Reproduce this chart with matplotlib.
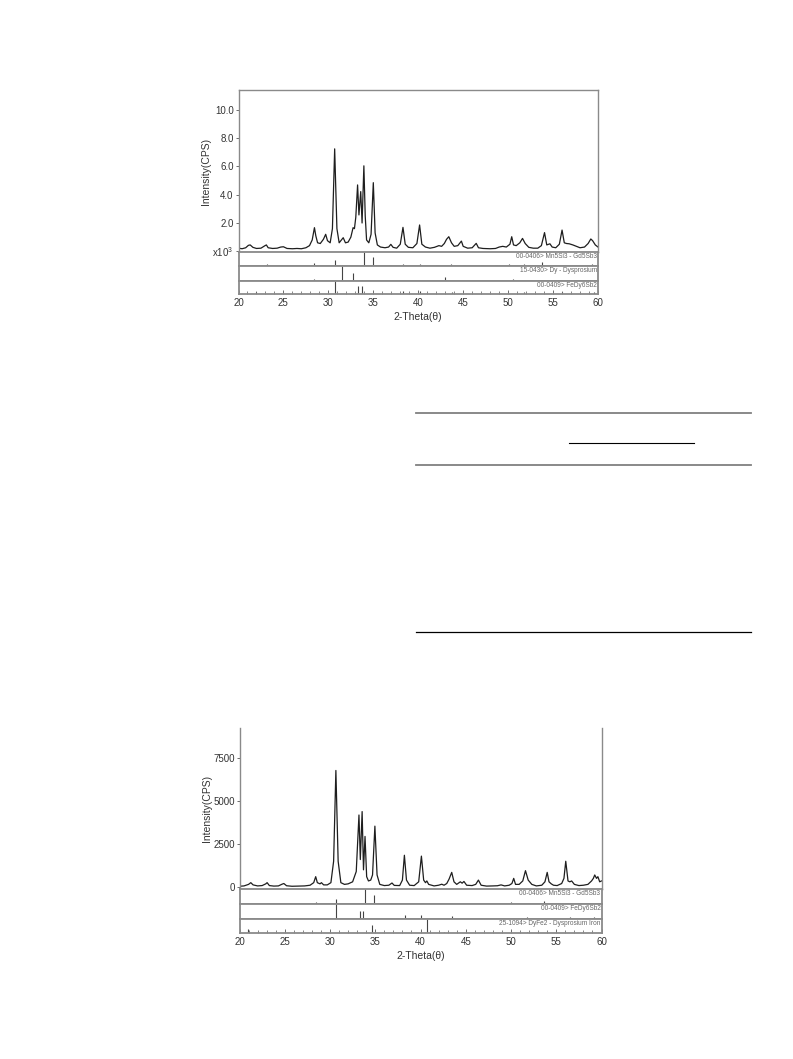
import numpy as np
import matplotlib
matplotlib.use("Agg")
import matplotlib.pyplot as plt
from matplotlib.lines import Line2D
from matplotlib.ticker import MultipleLocator

plt.rcParams['font.family'] = ['Liberation Sans', 'DejaVu Sans']
plt.rcParams['mathtext.default'] = 'regular'

W, H = 793, 1059

# ---- pattern 1 (top), intensity in 10^3 CPS ----
tt1 = [20.0, 20.4, 20.8, 21.1, 21.3, 21.6, 22.0, 22.5, 22.9, 23.1, 23.3, 23.8, 24.3, 24.7, 25.0,
       25.4, 26.0, 26.5, 27.0, 27.5, 27.9, 28.2, 28.45, 28.6, 28.8, 29.1, 29.45, 29.7, 29.9, 30.2,
       30.45, 30.7, 30.95, 31.2, 31.45, 31.65, 31.9, 32.2, 32.5, 32.75, 32.9, 33.05, 33.25, 33.4,
       33.6, 33.75, 33.95, 34.1, 34.25, 34.5, 34.75, 35.0, 35.2, 35.45, 35.8, 36.3, 36.7, 36.95,
       37.2, 37.6, 38.0, 38.3, 38.55, 38.9, 39.4, 39.85, 40.15, 40.4, 40.8, 41.3, 41.8, 42.3, 42.6,
       42.9, 43.15, 43.4, 43.7, 44.0, 44.4, 44.8, 45.0, 45.5, 46.0, 46.45, 46.7, 47.2, 48.0, 48.6,
       49.0, 49.4, 49.8, 50.2, 50.4, 50.6, 50.9, 51.3, 51.6, 51.9, 52.3, 52.8, 53.3, 53.7, 54.05,
       54.3, 54.65, 54.9, 55.3, 55.7, 56.0, 56.25, 56.5, 56.8, 57.2, 57.6, 58.0, 58.5, 58.9, 59.2,
       59.4, 59.7, 60.0]
cps1 = [0.22, 0.18, 0.25, 0.42, 0.45, 0.28, 0.2, 0.22, 0.38, 0.45, 0.25, 0.2, 0.22, 0.3, 0.32,
        0.2, 0.18, 0.2, 0.18, 0.25, 0.4, 0.8, 1.67, 1.1, 0.6, 0.55, 0.85, 1.2, 0.75, 0.6,
        1.6, 7.24, 1.6, 0.6, 0.8, 0.96, 0.6, 0.65, 1.0, 1.67, 1.6, 2.4, 4.69, 2.57,
        4.22, 2.0, 6.04, 2.5, 0.8, 0.6, 1.2, 4.85, 1.3, 0.45, 0.3, 0.25, 0.3, 0.49,
        0.28, 0.22, 0.5, 1.69, 0.5, 0.28, 0.25, 0.55, 1.86, 0.5, 0.3, 0.22, 0.28, 0.4, 0.35,
        0.55, 0.85, 1.03, 0.6, 0.35, 0.4, 0.72, 0.35, 0.22, 0.25, 0.56, 0.25, 0.2, 0.18, 0.2,
        0.3, 0.35, 0.3, 0.5, 1.03, 0.45, 0.4, 0.6, 0.91, 0.55, 0.28, 0.22, 0.22, 0.4, 1.32,
        0.45, 0.53, 0.3, 0.25, 0.5, 1.5, 0.6, 0.55, 0.53, 0.45, 0.35, 0.25, 0.3, 0.55, 0.87,
        0.75, 0.45, 0.3]

# reference cards for pattern 1 (position, relative height)
card1a_name = "00-0406> Mn5Si3 - Gd5Sb3"
card1a_pos = [23.2, 28.45, 30.7, 33.93, 34.94, 36.9, 38.3, 40.2, 42.1, 43.6, 45.1, 47.1, 48.6,
              50.1, 51.8, 53.8, 55.1, 57.4, 59.3]
card1a_h = [0.12, 0.2, 0.4, 1.0, 0.65, 0.1, 0.12, 0.12, 0.1, 0.12, 0.1, 0.08, 0.1,
            0.12, 0.12, 0.3, 0.1, 0.1, 0.12]
card1b_name = "15-0430> Dy - Dysprosium"
card1b_pos = [28.4, 31.55, 32.7, 43.0, 50.5, 55.9, 57.9]
card1b_h = [0.15, 1.0, 0.55, 0.25, 0.12, 0.1, 0.1]
card1c_name = "00-0409> FeDy6Sb2"
card1c_pos = [21.9, 30.76, 33.33, 33.71, 38.3, 40.2, 43.8, 51.8, 56.0, 59.5]
card1c_h = [0.12, 1.0, 0.6, 0.6, 0.22, 0.22, 0.15, 0.15, 0.18, 0.15]

# ---- pattern 2 (bottom), intensity in CPS ----
tt2 = [20.0, 20.5, 21.0, 21.25, 21.5, 22.0, 22.5, 22.9, 23.05, 23.3, 23.8, 24.3, 24.7, 24.9, 25.2,
       25.8, 26.5, 27.2, 27.8, 28.2, 28.42, 28.6, 28.9, 29.05, 29.3, 29.7, 30.1, 30.4, 30.65, 30.9,
       31.2, 31.6, 32.0, 32.5, 32.9, 33.2, 33.35, 33.55, 33.7, 33.87, 34.05, 34.25, 34.5, 34.7,
       34.96, 35.2, 35.5, 36.0, 36.5, 36.85, 37.1, 37.7, 38.0, 38.22, 38.45, 38.8, 39.3, 39.8,
       40.1, 40.35, 40.55, 40.7, 40.9, 41.5, 42.0, 42.35, 42.6, 42.9, 43.15, 43.45, 43.7, 44.0,
       44.4, 44.6, 44.8, 45.1, 45.7, 46.1, 46.4, 46.7, 47.3, 48.0, 48.5, 48.9, 49.3, 49.8, 50.1,
       50.3, 50.5, 50.9, 51.3, 51.6, 51.9, 52.3, 52.8, 53.4, 53.75, 54.0, 54.2, 54.45, 54.7, 55.1,
       55.6, 55.85, 56.05, 56.3, 56.5, 56.7, 57.0, 57.5, 58.0, 58.5, 58.9, 59.1, 59.25, 59.45,
       59.6, 59.8, 60.0]
cps2 = [40, 60, 150, 250, 120, 60, 80, 180, 250, 80, 50, 60, 160, 200, 70,
        40, 50, 60, 100, 250, 600, 250, 180, 250, 120, 120, 250, 1500, 6800, 1500,
        250, 150, 180, 300, 900, 4200, 1600, 4400, 1000, 2950, 600, 350, 400, 700,
        3550, 700, 150, 80, 100, 230, 90, 80, 400, 1850, 400, 100, 80, 300,
        1800, 400, 250, 350, 150, 60, 100, 160, 100, 200, 450, 850, 300, 150,
        300, 220, 320, 100, 80, 150, 400, 100, 50, 60, 70, 120, 60, 100, 200,
        500, 150, 150, 350, 950, 400, 150, 60, 100, 300, 850, 300, 180, 100, 80,
        200, 500, 1500, 350, 300, 350, 150, 80, 100, 150, 350, 500, 700, 500,
        600, 300, 350]

card2a_name = "00-0406> Mn5Si3 - Gd5Sb3"
card2a_pos = [23.1, 28.5, 30.7, 33.85, 34.88, 36.9, 40.2, 43.4, 50.0, 53.7, 56.2]
card2a_h = [0.08, 0.15, 0.35, 1.0, 0.6, 0.08, 0.08, 0.08, 0.15, 0.2, 0.1]
card2b_name = "00-0409> FeDy6Sb2"
card2b_pos = [21.5, 24.7, 30.7, 33.26, 33.6, 38.3, 40.06, 43.45, 51.8, 56.5, 59.2]
card2b_h = [0.08, 0.08, 1.0, 0.55, 0.55, 0.25, 0.25, 0.2, 0.15, 0.15, 0.15]
card2c_name = "25-1094> DyFe2 - Dysprosium Iron"
card2c_pos = [20.92, 34.59, 40.76, 42.6, 51.8]
card2c_h = [0.28, 0.6, 1.0, 0.1, 0.06]

FRAME = '#8a8a8a'
TXT = '#333333'


def box(x0, y0, x1, y1):
    return [x0 / W, 1 - y1 / H, (x1 - x0) / W, (y1 - y0) / H]


def style_frame(ax, lw=1.0):
    for s in ax.spines.values():
        s.set_color(FRAME)
        s.set_linewidth(lw)


def card_panel(fig, rect, pos, hts, name, last=False):
    ax = fig.add_axes(rect)
    ax.vlines(pos, 0, hts, color='#444444', lw=0.8)
    ax.set_xlim(20, 60)
    ax.set_ylim(0, 1.0)
    ax.set_yticks([])
    style_frame(ax, 1.3)
    ax.text(0.997, 0.93, name, transform=ax.transAxes, ha='right', va='top',
            fontsize=4.7, color='#666666')
    if last:
        ax.xaxis.set_major_locator(MultipleLocator(5))
        ax.xaxis.set_minor_locator(MultipleLocator(1))
        ax.tick_params(axis='x', which='major', direction='in', length=3, width=0.6,
                       color='#555555', labelsize=7, labelcolor=TXT, pad=3)
        ax.tick_params(axis='x', which='minor', direction='in', length=2, width=0.5,
                       color='#555555')
        ax.set_xlabel('2-Theta(\u03b8)', fontsize=7.5, color=TXT, labelpad=3)
    else:
        ax.set_xticks([])
    return ax


fig = plt.figure(figsize=(W / 100, H / 100), dpi=100)

# ---------- top figure ----------
ax1 = fig.add_axes(box(238.5, 90, 598, 252))
ax1.plot(tt1, cps1, color='#1e1e1e', lw=0.9)
ax1.set_xlim(20, 60)
ax1.set_ylim(-0.05, 11.4)
ax1.set_xticks([])
ax1.set_yticks([0, 2, 4, 6, 8, 10])
ax1.set_yticklabels(['x10$^3$', '2.0', '4.0', '6.0', '8.0', '10.0'])
ax1.tick_params(axis='y', direction='out', length=2.5, width=0.6, color='#555555',
                labelsize=7, labelcolor=TXT, pad=1)
ax1.set_ylabel('Intensity(CPS)', fontsize=7.5, color=TXT, labelpad=1)
style_frame(ax1, 1.0)

card_panel(fig, box(238.5, 252, 598, 266), card1a_pos, card1a_h, card1a_name)
card_panel(fig, box(238.5, 266, 598, 281), card1b_pos, card1b_h, card1b_name)
card_panel(fig, box(238.5, 281, 598, 294), card1c_pos, card1c_h, card1c_name, last=True)

# ---------- empty table rules in the middle ----------
fig.add_artist(Line2D([416 / W, 751 / W], [1 - 413 / H] * 2, color='#808080', lw=1.3))
fig.add_artist(Line2D([569 / W, 694 / W], [1 - 443 / H] * 2, color='black', lw=0.8))
fig.add_artist(Line2D([416 / W, 751 / W], [1 - 465 / H] * 2, color='#808080', lw=1.3))
fig.add_artist(Line2D([416 / W, 751 / W], [1 - 632 / H] * 2, color='black', lw=0.9))

# ---------- bottom figure ----------
ax2 = fig.add_axes(box(239.5, 728, 601.5, 889))
ax2.plot(tt2, cps2, color='#1e1e1e', lw=0.9)
ax2.set_xlim(20, 60)
ax2.set_ylim(-120, 9280)
ax2.set_xticks([])
ax2.set_yticks([0, 2500, 5000, 7500])
ax2.tick_params(axis='y', direction='out', length=2.5, width=0.6, color='#555555',
                labelsize=7, labelcolor=TXT, pad=1)
ax2.set_ylabel('Intensity(CPS)', fontsize=7.5, color=TXT, labelpad=1)
style_frame(ax2, 1.0)
ax2.spines['top'].set_visible(False)

card_panel(fig, box(239.5, 889, 601.5, 904), card2a_pos, card2a_h, card2a_name)
card_panel(fig, box(239.5, 904, 601.5, 919), card2b_pos, card2b_h, card2b_name)
card_panel(fig, box(239.5, 919, 601.5, 933), card2c_pos, card2c_h, card2c_name, last=True)

fig.savefig('out.png', dpi=100)
